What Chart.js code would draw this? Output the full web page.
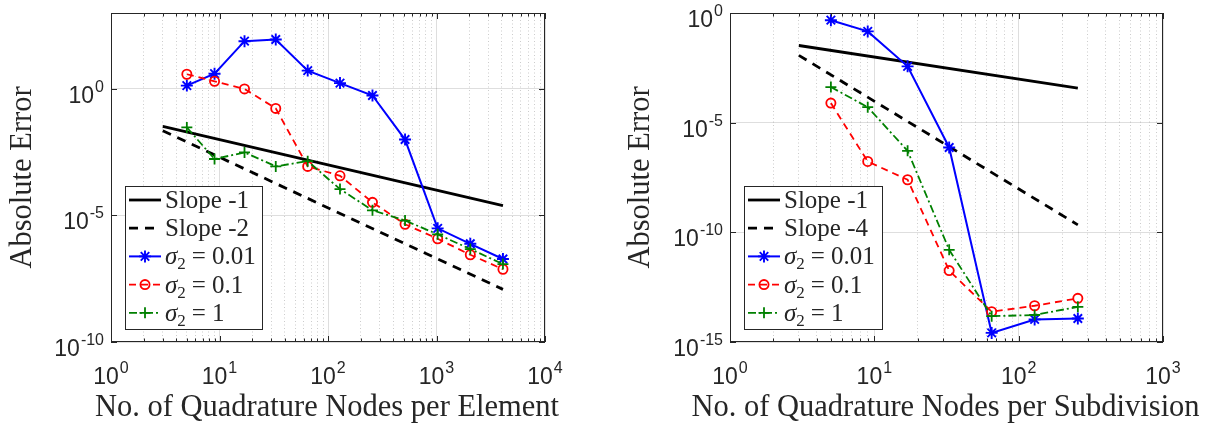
<!DOCTYPE html>
<html>
<head>
<meta charset="utf-8">
<script src="https://cdn.jsdelivr.net/npm/chart.js@4.4.0/dist/chart.umd.min.js"></script>
<style>
  html, body { margin: 0; padding: 0; background: #fff; }
  #wrap { position: relative; width: 1205px; height: 427px; overflow: hidden; }
  canvas { position: absolute; top: 0; }
  #errElement { left: 0; }
  #errSubdiv  { left: 600px; }
</style>
</head>
<body>
<div id="wrap">
  <canvas id="errElement" width="600" height="427"></canvas>
  <canvas id="errSubdiv" width="605" height="427"></canvas>
</div>
<script>
'use strict';

// ── Left panel: error vs. quadrature nodes per element ──────────────────────
const ELEM_NODES   = [5, 9, 17, 33, 65, 129, 257, 513, 1025, 2049, 4097];
const ELEM_SIG_001 = [1.35, 4.0, 77, 90, 5.3, 1.7, 0.55, 0.01, 3.1e-6, 7.6e-7, 1.9e-7];
const ELEM_SIG_01  = [3.8, 2.0, 1.0, 0.17, 8.7e-4, 3.7e-4, 3.3e-5, 4.5e-6, 1.2e-6, 2.8e-7, 7.5e-8];
const ELEM_SIG_1   = [0.03, 1.7e-3, 3.1e-3, 8.7e-4, 1.4e-3, 1.1e-4, 1.6e-5, 6.3e-6, 1.8e-6, 4.7e-7, 1.2e-7];
const ELEM_SLOPE_X = [3, 4097];
const ELEM_SLOPE_1 = [0.033, 2.44e-5];
const ELEM_SLOPE_2 = [0.0222, 1.2e-8];
const ELEM_X_TICKS = [1, 10, 100, 1000, 10000];
const ELEM_Y_TICKS = [1e-10, 1e-5, 1];

// ── Right panel: error vs. quadrature nodes per subdivision ────────────────
const SUB_NODES    = [5, 9, 17, 33, 65, 129, 257];
const SUB_SIG_001  = [0.47, 0.145, 3.7e-3, 7.4e-7, 2.6e-15, 1.07e-14, 1.18e-14];
const SUB_SIG_01   = [7.8e-5, 1.7e-7, 2.5e-8, 1.8e-12, 2.4e-14, 4.5e-14, 9.8e-14];
const SUB_SIG_1    = [4.2e-4, 5.1e-5, 5.2e-7, 1.6e-11, 1.5e-14, 1.7e-14, 4.0e-14];
const SUB_SLOPE_X  = [3, 257];
const SUB_SLOPE_1  = [0.033, 3.8e-4];
const SUB_SLOPE_4  = [0.0117, 2.2e-10];
const SUB_X_TICKS  = [1, 10, 100, 1000];
const SUB_Y_TICKS  = [1e-15, 1e-10, 1e-5, 1];

const INK   = '#262626';
const SERIF = '"Liberation Serif", "Times New Roman", serif';
const SANS  = '"Liberation Sans", Arial, sans-serif';

function pts(xs, ys) { return xs.map((x, i) => ({ x, y: ys[i] })); }

function isDecade(v) {
  const e = Math.log10(v);
  return Math.abs(e - Math.round(e)) < 1e-9;
}

// 1..9 x 10^n between min and max (MATLAB-style minor grid)
function logSteps(min, max) {
  const out = [];
  for (let d = min; d < max; d *= 10) {
    for (let m = 1; m < 10; m++) out.push(+(m * d).toPrecision(6));
  }
  out.push(max);
  return out;
}

function buildDatasets(nodes, s001, s01, s1, slopeX, slopeA, slopeB, slopeBLabel) {
  return [
    { label: 'Slope -1', data: pts(slopeX, slopeA), borderColor: '#000', borderWidth: 2.8,
      pointRadius: 0, order: 5 },
    { label: slopeBLabel, data: pts(slopeX, slopeB), borderColor: '#000', borderWidth: 2.8,
      borderDash: [9, 7], pointRadius: 0, order: 4 },
    { label: 'σ₂ = 0.01', sigma: '0.01', data: pts(nodes, s001), borderColor: '#0000ff',
      borderWidth: 2, pointStyle: 'star', pointRadius: 6, pointBorderWidth: 1.9,
      pointBackgroundColor: '#0000ff', order: 3 },
    { label: 'σ₂ = 0.1', sigma: '0.1', data: pts(nodes, s01), borderColor: '#ff0000',
      borderWidth: 1.8, borderDash: [7, 5], pointStyle: 'circle', pointRadius: 4.6,
      pointBorderWidth: 1.8, pointBackgroundColor: 'rgba(0,0,0,0)', order: 2 },
    { label: 'σ₂ = 1', sigma: '1', data: pts(nodes, s1), borderColor: '#008000',
      borderWidth: 1.8, borderDash: [8, 3, 2, 3], pointStyle: 'cross', pointRadius: 5.5,
      pointBorderWidth: 1.8, pointBackgroundColor: '#008000', order: 1 },
  ];
}

// "10" with a raised exponent
function powerLabel(ctx, value, x, baseline, align) {
  const base = '10', sup = String(Math.round(Math.log10(value)));
  ctx.font = `23px ${SANS}`;
  const wb = ctx.measureText(base).width;
  ctx.font = `16px ${SANS}`;
  const ws = ctx.measureText(sup).width;
  const left = align === 'right' ? x - wb - ws - 1 : x - (wb + ws + 1) / 2;
  ctx.fillStyle = INK;
  ctx.textAlign = 'left';
  ctx.textBaseline = 'alphabetic';
  ctx.font = `23px ${SANS}`;
  ctx.fillText(base, left, baseline);
  ctx.font = `16px ${SANS}`;
  ctx.fillText(sup, left + wb + 1, baseline - 11);
}

function drawLegend(chart, lg) {
  const { ctx, chartArea: a } = chart;
  const bx = Math.round(a.left + lg.dx), by = lg.top;
  ctx.fillStyle = '#fff';
  ctx.fillRect(bx, by, lg.width, lg.height);
  ctx.strokeStyle = INK;
  ctx.lineWidth = 1;
  ctx.setLineDash([]);
  ctx.strokeRect(bx + 0.5, by + 0.5, lg.width, lg.height);

  chart.data.datasets.forEach((ds, i) => {
    const cy = by + 14 + i * 28.2;
    const x0 = bx + 4, x1 = bx + 36;
    ctx.save();
    ctx.strokeStyle = ds.borderColor;
    ctx.lineWidth = ds.borderWidth;
    ctx.setLineDash(ds.borderDash || []);
    ctx.beginPath();
    ctx.moveTo(x0, cy);
    ctx.lineTo(x1, cy);
    ctx.stroke();
    ctx.setLineDash([]);
    if (ds.pointRadius) {
      ctx.lineWidth = ds.pointBorderWidth;
      ctx.fillStyle = 'rgba(0,0,0,0)';
      Chart.helpers.drawPoint(ctx, {
        pointStyle: ds.pointStyle, rotation: 0,
        radius: ds.pointRadius, borderWidth: ds.pointBorderWidth,
      }, (x0 + x1) / 2, cy);
    }
    ctx.restore();

    let tx = bx + 40;
    const base = cy + 8;
    ctx.fillStyle = INK;
    ctx.textAlign = 'left';
    ctx.textBaseline = 'alphabetic';
    if (ds.sigma) {
      ctx.font = `italic 25px ${SERIF}`;
      ctx.fillText('σ', tx, base);
      tx += ctx.measureText('σ').width;
      ctx.font = `17px ${SERIF}`;
      ctx.fillText('2', tx, base + 5);
      tx += ctx.measureText('2').width + 6;
      ctx.font = `25px ${SERIF}`;
      ctx.fillText('=', tx, base);
      tx += ctx.measureText('=').width + 6;
      ctx.fillText(ds.sigma, tx, base);
    } else {
      ctx.font = `25px ${SERIF}`;
      ctx.fillText(ds.label, tx, base);
    }
  });
}

// box, inward ticks, power-of-ten labels, x title and the in-axes legend
const matlabFrame = {
  id: 'matlabFrame',
  afterDraw(chart, args, opts) {
    const { ctx, chartArea: a, scales: { x, y } } = chart;
    ctx.save();
    ctx.strokeStyle = INK;
    ctx.lineWidth = 1;
    ctx.setLineDash([]);
    ctx.beginPath();
    x.ticks.forEach(t => {
      const px = Math.round(x.getPixelForValue(t.value)) + 0.5;
      const len = isDecade(t.value) ? 6 : 3.5;
      ctx.moveTo(px, a.bottom); ctx.lineTo(px, a.bottom - len);
      ctx.moveTo(px, a.top);    ctx.lineTo(px, a.top + len);
    });
    y.ticks.forEach(t => {
      const py = Math.round(y.getPixelForValue(t.value)) + 0.5;
      ctx.moveTo(a.left, py);  ctx.lineTo(a.left + 6, py);
      ctx.moveTo(a.right, py); ctx.lineTo(a.right - 6, py);
    });
    ctx.stroke();
    ctx.strokeRect(Math.round(a.left) + 0.5, Math.round(a.top) + 0.5,
                   Math.round(a.right - a.left) - 1, Math.round(a.bottom - a.top) - 1);

    opts.xLabels.forEach(v => powerLabel(ctx, v, x.getPixelForValue(v), a.bottom + 42, 'center'));
    opts.yLabels.forEach(v => powerLabel(ctx, v, a.left - 7, y.getPixelForValue(v) + 14, 'right'));

    // x title drawn here so it is not squeezed to the axis width
    ctx.fillStyle = INK;
    ctx.font = `30.5px ${SERIF}`;
    ctx.textAlign = 'center';
    ctx.textBaseline = 'alphabetic';
    ctx.fillText(opts.xTitle, (a.left + a.right) / 2 - 1, 416);

    drawLegend(chart, opts.legend);
    ctx.restore();
  },
};

function makeChart(id, p) {
  const ctx = document.getElementById(id).getContext('2d');
  return new Chart(ctx, {
    type: 'line',
    data: { datasets: p.datasets },
    plugins: [matlabFrame],
    options: {
      responsive: false,
      animation: false,
      layout: { padding: { top: 13, right: p.padRight, left: 0, bottom: 0 } },
      plugins: {
        legend: { display: false },
        tooltip: { enabled: false },
        matlabFrame: { xLabels: p.xTicks, yLabels: p.yTicks, legend: p.legend, xTitle: p.xTitle },
      },
      scales: {
        x: {
          type: 'logarithmic',
          min: p.xTicks[0],
          max: p.xTicks[p.xTicks.length - 1],
          afterBuildTicks: s => { s.ticks = logSteps(s.min, s.max).map(v => ({ value: v })); },
          afterFit: s => { s.height = 85; },
          ticks: { display: false },
          grid: {
            drawTicks: false,
            lineWidth: 1,
            color: c => (c.tick && !isDecade(c.tick.value)) ? 'rgba(0,0,0,0.2)' : 'rgba(0,0,0,0.13)',
          },
          border: {
            display: false,
            dash: c => (c.tick && !isDecade(c.tick.value)) ? [1, 2.5] : [],
          },
        },
        y: {
          type: 'logarithmic',
          min: p.yMin,
          max: p.yMax,
          afterBuildTicks: s => { s.ticks = p.yTicks.map(v => ({ value: v })); },
          afterFit: s => { s.width = p.areaLeft; },
          ticks: { display: false },
          grid: { drawTicks: false, lineWidth: 1, color: 'rgba(0,0,0,0.13)' },
          border: { display: false },
          title: {
            display: true,
            text: 'Absolute Error',
            color: INK,
            font: { family: SERIF, size: 30.5, lineHeight: 1 },
            padding: { top: p.yTitlePad, bottom: 0 },
          },
        },
      },
    },
  });
}

makeChart('errElement', {
  datasets: buildDatasets(ELEM_NODES, ELEM_SIG_001, ELEM_SIG_01, ELEM_SIG_1,
                          ELEM_SLOPE_X, ELEM_SLOPE_1, ELEM_SLOPE_2, 'Slope -2'),
  xTicks: ELEM_X_TICKS, yTicks: ELEM_Y_TICKS, yMin: 1e-10, yMax: 1e3,
  xTitle: 'No. of Quadrature Nodes per Element',
  areaLeft: 111, padRight: 55, yTitlePad: 8,
  legend: { dx: 14, top: 186, width: 137, height: 143 },
});

makeChart('errSubdiv', {
  datasets: buildDatasets(SUB_NODES, SUB_SIG_001, SUB_SIG_01, SUB_SIG_1,
                          SUB_SLOPE_X, SUB_SLOPE_1, SUB_SLOPE_4, 'Slope -4'),
  xTicks: SUB_X_TICKS, yTicks: SUB_Y_TICKS, yMin: 1e-15, yMax: 1,
  xTitle: 'No. of Quadrature Nodes per Subdivision',
  areaLeft: 130, padRight: 42, yTitlePad: 26,
  legend: { dx: 14, top: 186, width: 138, height: 143 },
});
</script>
</body>
</html>
